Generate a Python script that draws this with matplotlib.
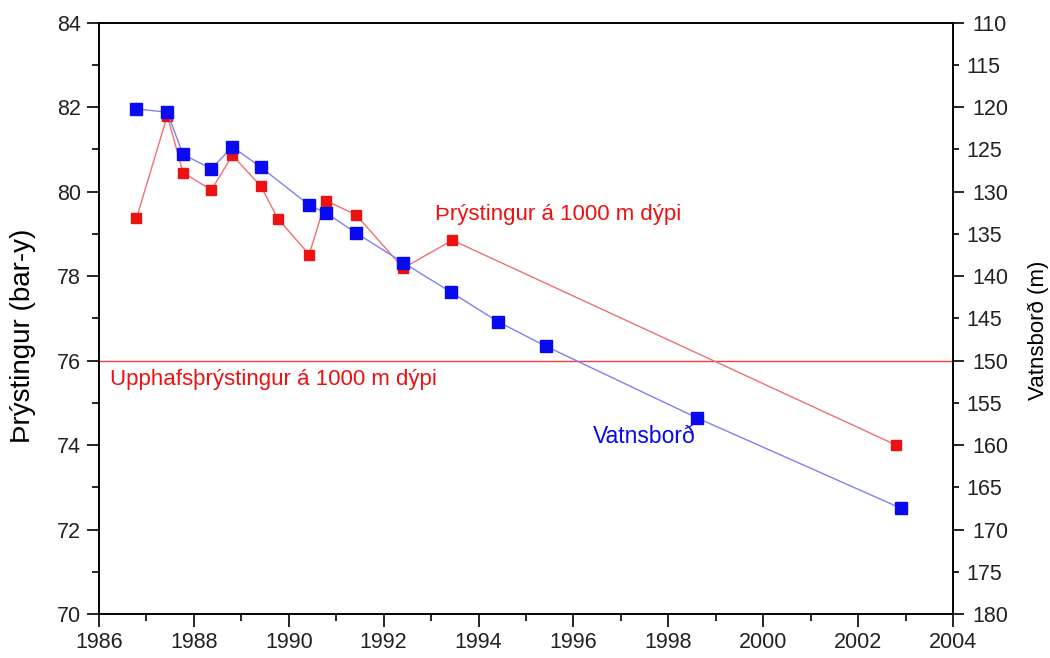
import matplotlib.pyplot as plt
from matplotlib.ticker import MultipleLocator, FormatStrFormatter

plt.rcParams['font.family'] = ['Liberation Sans', 'DejaVu Sans']

# pressure at 1000 m depth (bar-g)
p_year = [1986.79, 1987.44, 1987.77, 1988.37, 1988.81, 1989.41, 1989.77,
          1990.43, 1990.78, 1991.42, 1992.41, 1993.45, 2002.80]
p_val = [79.37, 81.80, 80.45, 80.04, 80.86, 80.13, 79.36,
         78.51, 79.79, 79.45, 78.19, 78.85, 74.0]

# water level (m)
w_year = [1986.79, 1987.44, 1987.77, 1988.37, 1988.81, 1989.41, 1990.43,
          1990.78, 1991.42, 1992.41, 1993.42, 1994.41, 1995.42, 1998.61, 2002.91]
w_val = [120.2, 120.6, 125.6, 127.3, 124.7, 127.1, 131.6,
         132.5, 134.9, 138.4, 141.9, 145.4, 148.3, 156.8, 167.5]

p_start = 76.0

fig = plt.figure(figsize=(10.5, 6.58), dpi=100)
ax = fig.add_axes([0.0943, 0.0669, 0.8133, 0.8986])
ax2 = ax.twinx()

ax.axhline(p_start, color='#f04040', lw=1.0)
ax.plot(p_year, p_val, color='#f07070', lw=1.0, marker='s', ms=6.5,
        mfc='#ee1111', mec='#ee1111', zorder=3)
ax2.plot(w_year, w_val, color='#8080f0', lw=1.0, marker='s', ms=8,
         mfc='#0a0af0', mec='#0a0af0', zorder=3)

ax.set_xlim(1986, 2004)
ax.set_ylim(70, 84)
ax2.set_ylim(180, 110)

ax.xaxis.set_major_locator(MultipleLocator(2))
ax.xaxis.set_minor_locator(MultipleLocator(1))
ax.yaxis.set_major_locator(MultipleLocator(2))
ax.yaxis.set_minor_locator(MultipleLocator(1))
ax2.yaxis.set_major_locator(MultipleLocator(10))
ax2.yaxis.set_minor_locator(MultipleLocator(5))
ax2.yaxis.set_minor_formatter(FormatStrFormatter('%d'))

ax.tick_params(which='major', direction='out', length=9, width=1.2,
               labelsize=15.5, pad=4, labelcolor='#222222')
ax.tick_params(which='minor', direction='out', length=5, width=1.2)
ax.tick_params(axis='x', which='both', top=False)
ax2.tick_params(which='major', direction='out', length=8, width=1.2,
                labelsize=15.5, pad=6, labelcolor='#222222')
ax2.tick_params(which='minor', direction='out', length=4, width=1.2,
                labelsize=15.5, pad=6, labelcolor='#222222')

for a in (ax, ax2):
    for s in a.spines.values():
        s.set_linewidth(1.2)

ax.set_ylabel('Þrýstingur (bar-y)', fontsize=20)
ax.yaxis.set_label_coords(-0.074, 0.47)
ax2.set_ylabel('Vatnsborð (m)', fontsize=16)
ax2.yaxis.set_label_coords(1.088, 0.48)

ax.text(1993.08, 79.45, 'Þrýstingur á 1000 m dýpi', color='#ee1111', fontsize=16,
        ha='left', va='center')
ax.text(1986.23, 75.55, 'Upphafsþrýstingur á 1000 m dýpi', color='#ee1111', fontsize=16,
        ha='left', va='center')
ax.text(1996.41, 74.2, 'Vatnsborð', color='#0a0af0', fontsize=16.5,
        ha='left', va='center')

fig.savefig('out.png', dpi=100)
